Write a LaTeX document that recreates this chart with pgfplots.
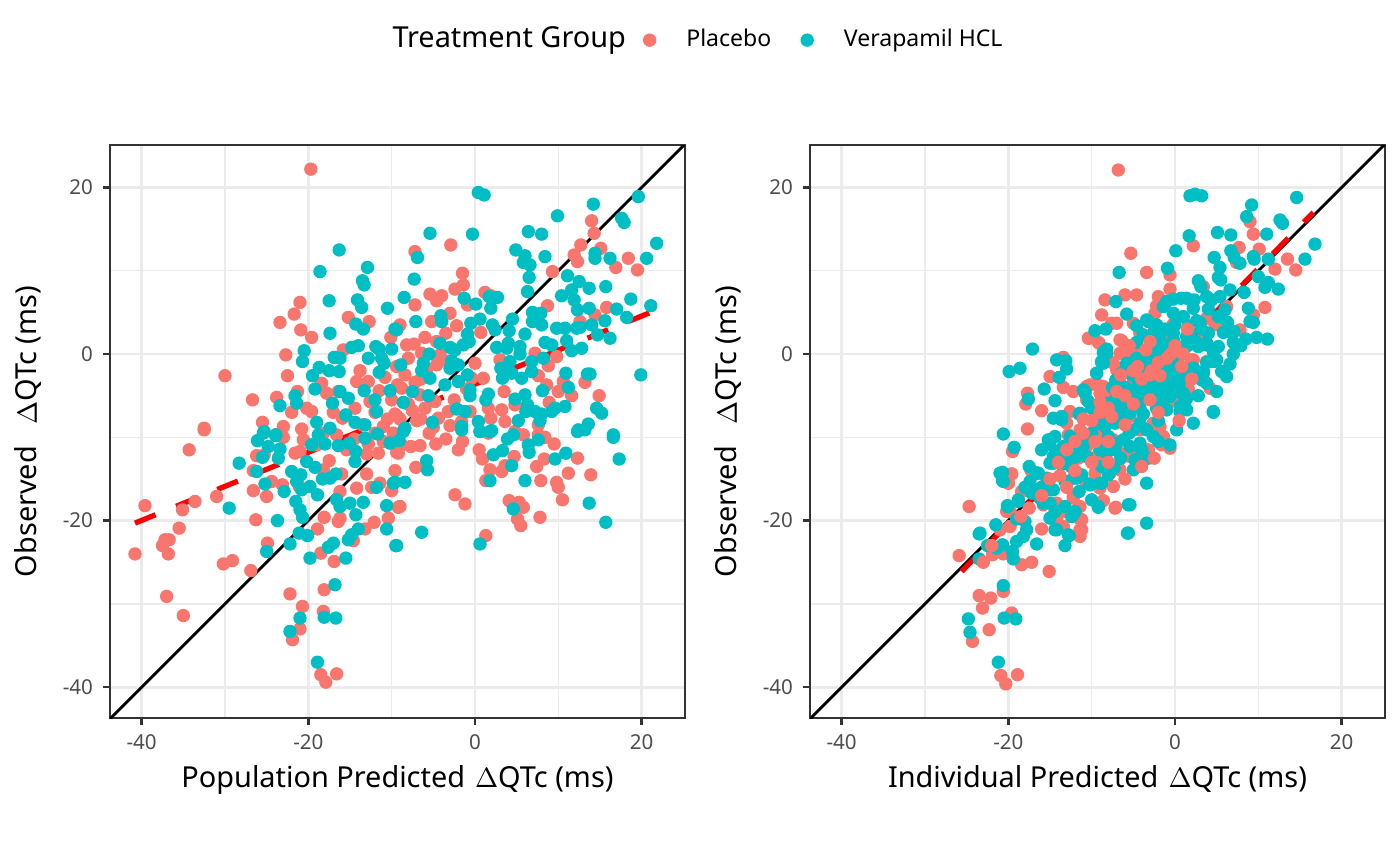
\documentclass[border=0pt]{standalone}
\usepackage{fontspec}
\setmainfont{Noto Sans}
\usepackage{pgfplots}
\pgfplotsset{compat=1.18}
\definecolor{placebo}{HTML}{F8766D}
\definecolor{vera}{HTML}{00BFC4}
\definecolor{gridc}{HTML}{EBEBEB}
\definecolor{gray20}{HTML}{333333}
\definecolor{gray30}{HTML}{4D4D4D}
\pgfplotsset{
  panel/.style={
    scale only axis, width=207pt, height=206.28pt,
    xmin=-43.8, xmax=25.2, ymin=-43.7, ymax=25.1,
    xtick={-40,-20,0,20}, ytick={-40,-20,0,20},
    xticklabels={-40,-20,0,20}, yticklabels={-40,-20,0,20},
    minor xtick={-30,-10,10}, minor ytick={-30,-10,10},
    grid=both,
    major grid style={gridc, line width=1pt},
    minor grid style={gridc, line width=0.5pt},
    axis line style={gray20, line width=0.9pt},
    tick pos=left, tick align=outside,
    major tick length=2.6pt, minor tick length=0pt,
    major tick style={gray20, line width=0.9pt},
    ticklabel style={font=\fontsize{7.4}{8}\selectfont, text=gray30},
    label style={font=\fontsize{10.4}{12}\selectfont, text=black},
    xlabel style={at={(0.5,-0.122)}, anchor=base},
    ylabel style={at={(-0.127,0.5)}, anchor=base},
    ptsR/.style={only marks, mark=*, mark size=2.2pt, color=placebo, mark options={fill=placebo, draw=none}},
    ptsC/.style={only marks, mark=*, mark size=2.2pt, color=vera, mark options={fill=vera, draw=none}},
    idline/.style={black, line width=1pt, forget plot},
    fitline/.style={red, line width=1.9pt, dash pattern=on 8pt off 8pt, forget plot},
  }
}
\begin{document}
\begin{tikzpicture}
\path[use as bounding box] (0,0) rectangle (504pt,311.76pt);
% ---------------- Left panel ----------------
\begin{axis}[panel, at={(39.6pt,53.28pt)}, anchor=south west,
  xlabel={Population Predicted\hspace{3.6pt}$\Delta$QTc (ms)},
  ylabel={Observed\hspace{7.8pt}$\Delta$QTc (ms)},
  legend style={at={(0.9125,1.183)}, anchor=west, draw=none, fill=none,
    legend columns=-1, font=\fontsize{8.3}{10}\selectfont,
    nodes={inner sep=0pt},
    /tikz/every odd column/.append style={column sep=11pt},
    /tikz/every even column/.append style={column sep=10.7pt}},
  legend image code/.code={\draw[mark repeat=2,mark phase=2,#1] plot coordinates {(0pt,0pt)(3pt,0pt)(6pt,0pt)};},
]
\addplot[ptsR] coordinates {
(-19.7,22.2) (-21.0,6.2) (-21.7,4.8) (-23.4,3.8) (-20.9,2.9) (-19.6,2.0) (-15.2,4.4) (-12.7,3.9) (-22.7,-0.1) (-22.5,-2.6) (-30.0,-2.6) (-26.7,-5.5) (-32.5,-8.9) (-25.5,-8.2) (-23.0,-8.7) (-20.8,-9.0) (-23.8,-5.2) (-22.0,-7.0) (-21.3,-4.5) (-20.2,-6.5) (-19.6,-6.9) (-18.4,-3.5) (-17.8,-4.7) (-16.4,-4.5) (-14.2,-3.3) (-12.8,-3.3) (-14.4,-6.5) (-12.6,-5.7) (-11.5,-4.4) (-10.1,2.0) (-15.8,0.5) (-9.4,-1.5) (-9.3,-3.7) (-15.9,-7.7)
(14.0,16.0) (14.3,14.5) (12.7,13.1) (15.1,12.7) (18.4,11.5) (19.5,10.1) (16.9,10.4) (12.3,11.1) (11.9,11.9) (-2.9,13.1) (-7.2,12.3) (9.3,9.9) (-1.5,9.7) (-1.4,8.3) (-2.4,7.8) (-5.4,7.2) (-4.0,7.0) (-4.6,6.4) (1.2,7.4) (1.9,7.0) (-7.2,5.9) (-0.9,5.9) (8.7,5.8) (15.8,5.6) (14.4,4.7) (12.6,3.9) (-3.0,4.9) (-5.2,3.9) (-2.2,3.4) (-9.0,3.5) (-8.2,1.1) (-6.0,2.0) (-4.6,1.5) (-7.3,1.2) (-6.4,0.1) (-4.2,-0.1) (-4.6,-1.3) (-3.2,-0.9) (0.7,2.6) (3.0,-0.7) (0.0,-1.1) (1.0,-2.9) (3.5,-4.5) (8.8,-1.4) (7.2,0.1) (9.8,-0.3) (7.6,-2.6) (8.6,-3.7) (13.2,-3.4) (14.9,-5.0) (10.0,-4.5) (11.6,-5.0) (10.6,-3.3) (-8.4,-2.5) (-8.8,-4.1) (-7.2,-3.4) (-6.6,-4.9) (-4.8,-5.7) (-3.2,-6.9) (-4.4,-7.7) (-0.6,-6.9) (1.6,-6.5) (3.2,-6.7) (4.8,-6.1) (6.4,-6.5) (8.9,-5.8) (3.6,-8.1) (1.9,-7.7) (4.8,-9.3) (7.6,-8.5) (-9.6,-7.2) (-1.6,-8.1) (-0.4,-2.9)
(-32.5,-9.1) (-34.3,-11.5) (-39.6,-18.2) (-35.1,-18.7) (-33.6,-17.7) (-31.0,-17.1) (-35.5,-20.9) (-37.2,-22.3) (-36.7,-22.3) (-37.5,-23.0) (-36.8,-24.0) (-40.8,-24.0) (-30.2,-25.2) (-29.1,-24.8) (-26.9,-26.0) (-37.0,-29.1) (-35.0,-31.4) (-26.3,-19.9) (-24.9,-22.7) (-26.6,-16.4) (-25.0,-17.1) (-26.6,-14.0) (-24.4,-15.3) (-23.1,-15.7) (-26.2,-12.2) (-25.3,-12.1) (-23.9,-9.7) (-23.0,-10.0) (-20.6,-10.3) (-21.6,-11.9) (-21.0,-11.7) (-19.1,-10.9) (-21.1,-15.9) (-22.2,-28.8) (-20.7,-30.3) (-21.0,-33.0) (-21.9,-34.3) (-18.2,-30.9) (-18.1,-28.3) (-18.5,-38.5) (-17.9,-39.4) (-16.6,-38.4) (-18.5,-23.9) (-16.9,-24.9) (-18.9,-21.0) (-18.1,-19.6) (-16.4,-20.1) (-16.2,-19.7) (-16.2,-16.5) (-14.2,-16.1) (-16.0,-14.4) (-13.0,-14.4) (-12.1,-20.2) (-13.2,-21.0) (-14.6,-22.4) (-10.4,-19.7) (-9.6,-14.0) (-12.4,-16.0) (-11.4,-15.5) (-10.0,-16.4) (-18.2,-9.5) (-16.6,-9.7) (-15.4,-11.5) (-11.6,-11.9) (-9.4,-11.8) (-17.5,-12.8) (-18.2,-13.9) (-9.2,-18.4)
(-4.7,-10.8) (-6.6,-11.0) (-7.7,-11.1) (-8.8,-10.9) (-9.2,-11.9) (-7.1,-13.6) (-2.4,-16.9) (-1.2,-18.0) (-9.0,-18.3) (0.9,-12.6) (1.8,-13.9) (1.3,-15.2) (3.2,-14.1) (3.6,-13.4) (4.7,-12.3) (5.8,-9.7) (7.6,-9.7) (8.4,-10.0) (9.5,-10.8) (8.3,-12.6) (7.4,-13.5) (7.9,-15.2) (9.8,-15.4) (10.0,-16.0) (10.5,-17.5) (11.2,-14.3) (12.3,-12.5) (13.9,-14.5) (4.1,-17.6) (5.3,-17.8) (5.8,-18.4) (5.1,-19.8) (5.5,-20.6) (7.8,-19.6) (1.3,-21.8) (1.6,-9.5)
(-13.5,-8.5) (-12.0,-9.5) (-10.5,-7.8) (-8.5,-9.0) (-7.0,-8.0) (-6.0,-6.5) (-5.5,-9.5) (-3.5,-10.2) (-2.0,-11.5) (-11.0,-10.5) (-13.0,-12.0) (-8.0,-6.0) (-10.0,-5.5) (-12.0,-7.0)
(-11.0,-8.7) (-9.0,-7.8) (-7.5,-6.8) (-6.5,-7.8) (-5.0,-8.8) (-3.0,-8.6) (-2.5,-5.5) (-1.0,-4.2) (-6.5,-3.0) (-9.8,-9.5) (-12.8,-10.8) (-14.5,-10.2) (-17.0,-7.0) (-13.8,-2.0) (-10.8,-2.8) (-8.0,-0.5) (-5.8,-1.8) (-3.5,2.5) (-1.5,-10.5) (0.5,-11.5)
};
\addlegendentry{Placebo}
\addplot[ptsC] coordinates {
(-16.3,12.5) (-18.6,9.9) (-12.9,10.4) (-13.5,8.8) (-13.3,8.3) (-17.5,6.4) (-14.1,6.5) (-13.6,5.6) (-10.5,5.5) (-14.3,3.6) (-13.4,3.0) (-9.6,3.0) (-17.4,2.5) (-20.5,0.4) (-20.7,-0.9) (-14.8,0.8) (-14.0,1.0) (-11.9,0.9) (-11.5,0.6) (-10.0,0.6) (-16.9,-0.4) (-16.2,-0.5) (-12.8,-0.5) (-11.2,-0.5) (-10.9,-1.1) (-18.7,-1.6) (-17.5,-2.0) (-16.3,-2.1) (-19.5,-2.6) (-11.5,-2.2) (-19.2,-4.2) (-16.2,-4.5) (-15.2,-5.3) (-21.6,-5.0) (-21.4,-5.9) (-23.4,-6.2) (-17.1,-5.9) (-13.3,-4.4) (-10.2,-4.4) (-12.0,-5.5) (-11.8,-6.9) (-15.5,-7.3) (-19.0,-8.2) (-17.4,-8.9) (-14.4,-8.2) (-13.2,-8.5) (-25.3,-9.3) (-23.9,-9.7)
(0.4,19.4) (1.1,19.1) (14.2,18.0) (19.6,18.9) (9.9,16.6) (17.6,16.3) (17.9,15.8) (-5.4,14.5) (-0.3,14.4) (6.4,14.7) (8.0,14.4) (21.8,13.3) (4.9,12.5) (6.0,11.8) (5.8,11.0) (6.6,10.7) (8.4,11.7) (14.4,12.1) (14.4,11.5) (16.2,11.5) (20.6,11.5) (-6.9,11.6) (-7.3,9.0) (6.5,9.2) (11.1,9.4) (12.5,8.7) (11.6,7.7) (13.7,7.9) (15.7,8.1) (6.3,7.5) (10.4,7.0) (18.7,6.6) (11.9,6.5) (12.3,5.3) (13.7,5.5) (17.0,5.4) (18.2,4.4) (21.1,5.8) (15.6,4.0) (-8.5,6.8) (-1.3,6.7) (0.1,6.0) (1.7,6.9) (2.7,6.8) (1.9,5.5) (-4.1,4.6) (-4.0,3.9) (-7.1,3.9) (-0.5,3.7) (0.6,4.2) (2.1,3.5) (4.5,4.2) (4.1,2.8) (6.9,5.0) (7.9,4.9) (6.9,3.9) (8.0,3.5) (9.8,3.1) (10.8,3.1) (12.2,3.1) (12.6,3.2) (14.0,3.5) (14.7,2.3) (16.2,1.9) (-9.4,2.9) (-0.9,2.4) (-0.7,1.5) (-1.4,1.1) (2.4,2.9) (6.0,2.4) (-4.2,1.3) (-3.0,0.8) (-2.4,0.5) (2.6,0.8) (4.0,1.3) (3.8,0.7) (5.4,0.9) (5.4,0.0) (8.4,1.4) (9.2,1.1) (11.0,1.6) (12.8,0.7) (11.6,0.4) (8.2,-0.5) (-5.5,0.0) (-6.2,-1.1) (-8.9,-1.3) (-2.8,-0.8) (-2.0,-1.3) (-3.0,-1.7) (3.1,-1.7) (4.2,-0.9) (4.4,-2.3) (6.8,-0.9) (6.8,-2.1) (-6.4,-2.0) (-5.4,-2.9) (-0.9,-2.5) (-2.0,-3.3) (3.3,-2.9) (5.6,-2.9) (10.9,-2.3) (13.5,-2.4) (13.8,-2.4) (19.9,-2.5) (11.2,-4.0) (-3.6,-3.7) (-7.5,-4.5) (-5.6,-5.0) (-8.6,-5.8) (-0.6,-4.3) (-0.6,-5.0) (1.6,-4.8) (1.3,-5.5) (6.0,-4.9) (6.3,-6.1) (6.1,-6.9) (7.2,-6.9) (8.0,-7.2) (8.1,-4.4) (4.8,-5.4) (9.2,-6.9) (9.6,-6.5) (10.8,-6.3) (14.6,-6.5) (15.2,-7.1) (-2.2,-6.6) (-1.2,-6.9) (-5.1,-8.2) (-1.6,-8.7) (0.4,-8.1) (2.0,-9.2) (0.6,-9.3) (5.2,-8.0) (7.8,-8.0) (12.4,-9.1) (13.6,-8.4) (16.6,-9.7) (-8.4,-8.9)
(-28.3,-13.1) (-29.5,-18.5) (-23.7,-20.0) (-25.0,-23.7) (-22.2,-22.8) (-19.8,-24.5) (-15.5,-24.5) (-16.8,-27.7) (-21.0,-31.7) (-22.2,-33.3) (-18.1,-31.6) (-16.7,-31.7) (-18.9,-37.0) (-26.1,-10.4) (-25.4,-9.5) (-23.9,-9.8) (-24.8,-11.1) (-23.4,-11.4) (-25.5,-12.4) (-23.6,-12.5) (-26.2,-14.1) (-25.2,-15.6) (-22.9,-16.5) (-22.0,-14.1) (-20.9,-14.5) (-21.4,-15.3) (-20.8,-16.3) (-20.2,-12.9) (-19.2,-13.6) (-19.6,-10.9) (-18.0,-10.8) (-18.8,-9.7) (-16.4,-11.0) (-15.1,-10.7) (-14.3,-11.7) (-14.4,-12.9) (-13.2,-10.1) (-11.7,-9.6) (-10.2,-10.7) (-18.3,-15.0) (-17.4,-14.9) (-16.7,-14.4) (-19.8,-15.9) (-18.9,-16.9) (-21.5,-17.7) (-21.0,-18.7) (-20.7,-19.6) (-21.1,-21.5) (-20.1,-21.8) (-16.6,-17.5) (-16.2,-18.3) (-15.0,-17.9) (-14.3,-19.3) (-13.4,-17.8) (-14.0,-21.0) (-14.8,-21.7) (-15.2,-22.3) (-17.0,-22.7) (-17.6,-23.2) (-11.8,-16.0) (-10.6,-18.2) (-10.6,-21.0) (-9.8,-15.5) (-9.5,-23.0)
(16.6,-10.0) (17.3,-12.6) (10.9,-11.9) (9.6,-12.6) (13.7,-17.9) (15.7,-20.2) (6.4,-10.9) (6.5,-11.8) (7.6,-10.3) (4.6,-9.7) (3.9,-10.2) (3.3,-11.6) (2.2,-12.1) (4.4,-13.4) (6.0,-15.2) (1.8,-15.2) (4.6,-18.6) (0.6,-22.8) (-6.4,-21.4) (-9.4,-23.0) (-5.8,-12.8) (-5.7,-13.9) (-8.4,-15.4) (-9.6,-15.4) (-9.1,-10.4) (-8.6,-9.3) (0.6,-9.3) (1.8,-9.3) (12.3,-9.3) (13.2,-9.1) (-1.6,-9.1)
};
\addlegendentry{Verapamil HCL}
\addplot[idline] coordinates {(-50,-50) (30,30)};
\addplot[fitline] coordinates {(-40.8,-20.3) (21.8,5.3)};
\end{axis}
% ---------------- Right panel ----------------
\begin{axis}[panel, at={(291.6pt,53.28pt)}, anchor=south west,
  xlabel={Individual Predicted\hspace{3.6pt}$\Delta$QTc (ms)},
  ylabel={Observed\hspace{7.8pt}$\Delta$QTc (ms)},
]
\addplot[ptsR] coordinates {
(-6.8,22.1) (-5.3,12.1) (-3.4,9.8) (-0.6,9.5) (-0.6,7.8) (2.2,13.0) (9.0,15.9) (9.4,14.4) (7.7,12.8) (10.1,12.6) (7.4,11.0) (13.5,11.4) (12.0,10.2) (14.5,10.1) (10.8,5.6) (9.4,4.7) (7.8,2.9) (-8.4,6.5) (-8.8,4.7) (-6.0,7.1) (-4.6,7.1) (-2.0,6.9) (-2.2,5.8) (-2.4,4.9) (-7.6,3.7) (-7.0,3.7) (-10.3,1.9) (-9.2,1.4) (-6.4,1.6) (-5.0,3.7) (-4.2,2.5) (-0.2,3.6) (3.4,8.1) (-6.6,0.1) (-5.8,-0.1) (-7.8,-0.9) (-13.4,-0.4) (-15.0,-2.7) (-13.4,-4.0) (-17.7,-4.7) (-17.9,-6.0) (-16.0,-6.8) (-10.6,-3.9) (-9.4,-3.6) (-8.6,-4.3) (2.0,-0.7) (0.6,-2.7) (1.6,-4.2) (-0.6,-2.3) (-7.0,-1.9) (-5.8,-1.5) (-7.8,-5.1) (-4.2,-3.5) (-2.6,-4.7) (-12.6,-6.9) (-10.6,-5.5) (-1.0,-6.3) (4.8,3.5) (3.8,4.3) (6.2,5.7)
(-10.4,1.9) (-9.1,1.3) (-6.6,1.7) (-4.2,2.5) (-13.5,-0.5) (-17.7,-9.0) (-10.2,-3.7) (-8.6,-3.9) (-9.0,-4.7) (-7.4,-5.3) (-12.2,-4.5) (-13.0,-8.3) (-11.4,-9.1) (-12.8,-9.7) (-8.2,-7.1) (-7.4,-8.1) (-9.4,-8.7) (-8.6,-9.9) (-6.6,-3.5) (-5.0,-3.5) (-4.2,-4.7) (-5.4,-7.5) (-4.2,-9.1) (-2.6,-8.3) (0.2,-5.5) (1.4,-3.9) (2.2,-0.7) (3.4,-2.3) (-1.8,-8.7) (-1.4,-9.9) (-7.4,-10.3) (-6.6,-11.9) (-8.2,-11.5) (-5.4,-12.3) (-10.6,-11.1) (-9.4,-12.3) (-11.6,-12.5) (-14.0,-11.7) (-14.6,-13.1) (-3.2,-11.5) (-4.2,-12.1) (-1.6,-10.9) (-0.6,-11.3) (-7.8,-14.3) (-6.6,-13.9) (-7.4,-15.9) (-9.6,-14.3) (-10.6,-15.5) (-17.3,-13.9) (-19.6,-14.4) (-20.0,-15.5) (-19.8,-18.9) (-24.7,-18.3) (-12.2,-17.1) (-11.4,-18.3) (-13.4,-18.9) (-14.2,-17.9) (-7.1,-18.4) (-9.0,-16.1) (-16.6,-14.3) (-17.4,-15.9) (-15.8,-18.1) (-14.2,-19.9) (-11.2,-19.9) (-11.4,-21.1) (-19.8,-20.7) (-21.0,-21.1) (3.8,-0.9) (4.2,-4.1) (-3.4,-0.7) (-1.0,-1.5) (0.2,-1.1) (0.2,-4.7) (3.4,2.5) (1.8,1.7) (-1.0,2.1) (-5.0,0.5) (-7.4,-1.1)
(-25.9,-24.2) (-23.5,-29.0) (-22.1,-29.3) (-23.1,-30.5) (-19.6,-31.1) (-20.6,-28.5) (-22.3,-33.1) (-24.3,-34.5) (-20.9,-38.6) (-20.3,-39.6) (-18.9,-38.5) (-21.9,-24.1) (-20.6,-24.0) (-18.4,-25.3) (-17.2,-25.0) (-15.1,-26.1) (-11.4,-21.9) (-11.2,-21.1) (-11.4,-19.8) (-12.2,-17.3) (-7.2,-18.5) (-8.6,-17.6) (-19.6,-14.4) (-18.4,-16.5) (-20.2,-18.9) (-20.0,-15.5) (-17.2,-14.1) (-14.2,-19.9) (-13.4,-20.7) (-19.5,-11.7)
};
\addplot[ptsC] coordinates {
(1.8,19.0) (2.4,19.2) (3.2,19.0) (14.6,18.8) (9.2,17.9) (8.6,16.5) (12.6,16.1) (12.9,15.7) (5.1,14.6) (6.7,14.3) (11.0,14.4) (1.7,14.2) (16.8,13.2) (0.1,12.4) (6.7,12.4) (7.1,11.6) (7.8,10.9) (4.7,11.6) (5.4,10.4) (9.4,11.7) (9.5,11.4) (11.2,11.4) (15.6,11.4) (-6.7,9.8) (-0.9,10.3) (5.2,9.2) (5.5,8.9) (10.0,9.3) (11.2,8.6) (10.8,8.0) (12.4,7.8) (2.8,8.8) (3.1,8.1) (6.6,7.7) (8.3,7.4) (-7.1,6.3) (-5.8,4.8) (-1.0,6.3) (-0.2,6.6) (0.7,6.7) (1.4,6.7) (2.3,6.5) (-1.4,5.7) (-0.2,4.9) (2.2,5.5) (3.8,6.9) (4.4,6.5) (5.4,6.9) (4.0,5.4) (6.0,5.3) (5.2,4.5) (8.8,5.5) (9.0,3.9) (9.4,3.8) (-4.6,3.4) (-3.2,3.9) (-2.2,3.5) (1.0,4.5) (1.6,3.4) (2.6,4.0) (3.2,3.0) (6.3,3.8) (6.4,2.7) (5.8,2.6) (7.1,2.7) (9.8,2.0) (11.1,1.8) (7.0,1.4) (7.9,1.0) (-9.6,2.8) (-8.3,3.0) (-17.1,0.6) (-19.9,-2.1) (-18.6,-1.7) (-14.2,-0.7) (-13.1,-0.8) (-13.0,-1.8) (-13.9,-2.8) (-15.7,-4.2) (-17.6,-5.4) (-14.4,-5.6) (-10.8,-4.7) (-11.0,-4.3) (-9.4,-2.3) (-8.8,-1.0) (-8.2,0.6) (-8.6,0.2) (-7.1,-3.1) (-6.4,-2.3) (-5.2,-2.5) (-5.8,-1.1) (-4.6,-0.5) (-3.8,-1.5) (-3.0,-0.9) (-4.6,1.4) (-3.8,2.3) (-2.6,2.5) (-3.4,4.1) (-2.4,3.3) (-1.8,1.7) (-1.0,0.9) (-2.2,0.3) (-1.4,-0.3) (0.0,-0.7) (-0.6,-1.9) (0.2,-2.7) (-1.4,-3.1) (-1.8,-4.3) (-0.2,2.5) (1.4,2.1) (2.8,0.9) (3.8,1.3) (5.2,0.9) (4.6,0.3) (3.8,-1.0) (5.0,-0.7) (6.6,-1.2) (2.2,-1.7) (3.4,-2.2) (3.2,-3.1) (5.6,-2.1) (1.0,-2.5) (-2.8,-4.3) (-0.6,-3.9) (0.8,-4.7) (1.4,-5.3) (1.2,-5.8) (4.6,-7.0) (0.6,-6.9) (-10.0,-6.5) (-9.0,-6.3) (-7.4,-6.3) (-6.6,-5.5) (-4.2,-5.9) (-2.2,-6.5) (-13.6,-7.5) (-11.5,-7.2) (-5.0,-4.3) (-4.2,-5.5)
(-20.6,-9.6) (-19.3,-11.2) (-21.0,-14.3) (-20.6,-15.3) (-20.1,-18.3) (-18.8,-17.7) (-23.4,-21.5) (-18.0,-20.1) (-17.8,-21.1) (-16.6,-14.3) (-15.4,-14.9) (-14.6,-16.3) (-16.2,-17.3) (-15.0,-17.9) (-14.4,-18.9) (-14.2,-21.1) (-12.8,-21.7) (-12.4,-19.5) (-12.0,-18.9) (-15.0,-13.1) (-14.6,-12.3) (-13.0,-12.3) (-13.4,-13.1) (-11.8,-12.3) (-13.2,-15.3) (-12.2,-14.9) (-11.2,-14.5) (-10.2,-15.7) (-9.0,-15.5) (-15.2,-10.3) (-14.4,-9.9) (-13.4,-11.3) (-12.6,-10.9) (-13.8,-11.9) (-14.6,-7.7) (-13.6,-7.9) (-11.4,-7.1) (-12.6,-9.9) (-10.6,-10.3) (-11.4,-11.5) (-10.6,-12.3) (-10.8,-4.5) (-10.4,-5.7) (-9.8,-6.3) (-9.0,-6.5) (-8.0,-5.9) (-9.2,-8.3) (-8.4,-8.7) (-7.2,-8.3) (-8.0,-9.9) (-7.0,-10.7) (-9.0,-11.5) (-8.2,-11.9) (-7.2,-11.5) (-7.4,-13.5) (-8.8,-13.5) (-5.0,-13.9) (-4.8,-12.7) (-3.2,-12.5) (-3.4,-15.5) (-9.2,-18.3) (-5.4,-18.1) (-3.4,-20.3) (-5.6,-21.5) (-6.2,-10.3) (-5.0,-9.1) (-4.2,-10.7) (-5.4,-11.1) (-6.6,-7.9) (-5.4,-7.1) (-4.2,-8.3) (-3.4,-9.1) (-2.6,-9.9) (-7.0,-5.1) (-5.8,-5.9) (-5.0,-5.1) (-4.2,-6.5) (-9.4,-2.3) (-8.6,-1.1) (-8.2,0.1) (-8.8,-0.9) (-7.0,-3.1) (-5.8,-1.5) (-5.0,-2.3) (-4.2,-1.1) (-3.4,-0.3) (-2.6,-1.5) (-2.2,-3.1) (-1.4,-3.9) (-0.6,-5.1) (-1.8,-5.5) (-1.0,-6.7) (0.6,-6.3) (1.2,-5.5) (2.2,-8.3) (0.2,-9.1) (-0.6,-10.9) (1.0,-4.7) (1.4,-6.7) (4.6,-6.9) (1.0,-2.5) (2.2,-1.7) (3.4,-2.1) (4.6,-0.9) (3.8,1.1) (-2.6,2.1) (-1.8,0.9) (-0.2,1.7) (1.0,0.9) (1.8,2.5)
(-20.7,-14.2) (-20.7,-15.2) (-20.1,-18.2) (-23.5,-21.6) (-23.5,-24.6) (-21.4,-23.3) (-20.7,-22.9) (-19.5,-23.7) (-19.4,-24.6) (-18.2,-21.9) (-19.0,-22.5) (-16.6,-22.8) (-20.6,-27.8) (-24.8,-31.8) (-24.6,-33.4) (-20.5,-31.7) (-19.1,-31.8) (-21.2,-37.0) (-13.2,-23.0) (-12.7,-21.8) (-14.4,-21.1) (-12.3,-19.4) (-17.4,-15.3) (-18.8,-17.5) (-17.2,-16.7) (-16.4,-14.3) (-15.0,-16.3) (-15.8,-17.9) (-15.0,-19.7) (-13.2,-18.3) (-9.2,-18.4) (-8.8,-15.5) (-7.3,-13.7) (-5.6,-18.1) (-5.7,-21.5) (-14.6,-13.1) (-13.0,-15.5) (-11.8,-14.9) (-10.2,-15.7) (-15.0,-10.9) (-13.4,-11.1) (-11.0,-12.1) (-9.0,-11.5) (-7.4,-10.7)
(-12.5,-13.5) (-11.0,-11.0) (-10.0,-9.5) (-9.5,-7.3) (-8.0,-7.5) (-6.5,-6.5) (-6.0,-4.0) (-4.0,-4.5) (-3.0,-4.0) (-2.0,-2.0) (-0.8,-1.0) (0.5,0.5) (1.5,1.0) (2.5,1.5) (3.0,3.8) (4.0,2.5) (0.0,3.5) (-1.2,3.0) (-2.8,0.0) (-4.5,-3.0) (-7.5,-4.0) (-5.5,-9.5) (-3.8,-7.2) (-2.0,-8.0) (-1.0,-4.5) (0.5,-3.5) (2.8,-5.0) (3.8,-3.5) (5.0,-4.5) (6.2,-2.7) (7.0,0.0) (8.5,1.8) (-16.0,-16.0) (-17.5,-13.5) (-16.0,-11.5) (-18.0,-16.0) (-19.0,-19.8) (-21.5,-20.5) (-22.5,-23.0) (-11.5,-16.5) (-10.0,-17.5) (-8.0,-14.5) (-6.5,-12.5) (-4.0,-11.5) (-2.0,-10.5)
};
\addplot[ptsR, forget plot] coordinates {
(-14.0,-13.0) (-13.0,-11.5) (-12.0,-10.5) (-11.0,-9.5) (-10.0,-8.0) (-9.0,-7.0) (-8.0,-6.5) (-7.0,-4.5) (-6.0,-5.0) (-5.0,-2.0) (-4.0,-3.0) (-3.0,-2.5) (-2.0,-1.0) (-1.0,-0.5) (0.0,1.0) (1.0,0.0) (-6.0,-8.5) (-8.0,-10.5) (-10.0,-13.0) (-12.0,-14.0) (-15.0,-15.0) (-16.0,-17.0) (-13.0,-16.0) (-5.0,-6.0) (-3.0,-5.5) (-2.0,-7.0) (-9.0,-5.8) (-11.0,-7.8) (-6.5,-2.5) (-3.5,0.5) (-2.8,-2.0) (0.8,-1.5) (-1.8,-2.6) (-7.6,-7.5) (-9.6,-10.5) (-13.8,-14.6) (-17.5,-18.5) (-18.5,-19.5) (-16.0,-21.0) (-22.0,-23.0) (-23.0,-25.0) (-8.0,-13.0) (-6.0,-15.0) (-4.0,-13.5) (-2.5,-12.5) (0.5,-8.0) (2.0,-3.0) (-0.5,0.0) (1.5,3.0) (-3.0,1.5) (-5.5,1.0) (-4.5,-1.5)
};
\addplot[idline] coordinates {(-50,-50) (30,30)};
\addplot[fitline] coordinates {(-25.6,-26.1) (16.6,17.0)};
\end{axis}
\node[anchor=base west, font=\fontsize{10.4}{12}\selectfont, inner sep=0pt] at (141.1pt,294.5pt) {Treatment Group};
\end{tikzpicture}
\end{document}
